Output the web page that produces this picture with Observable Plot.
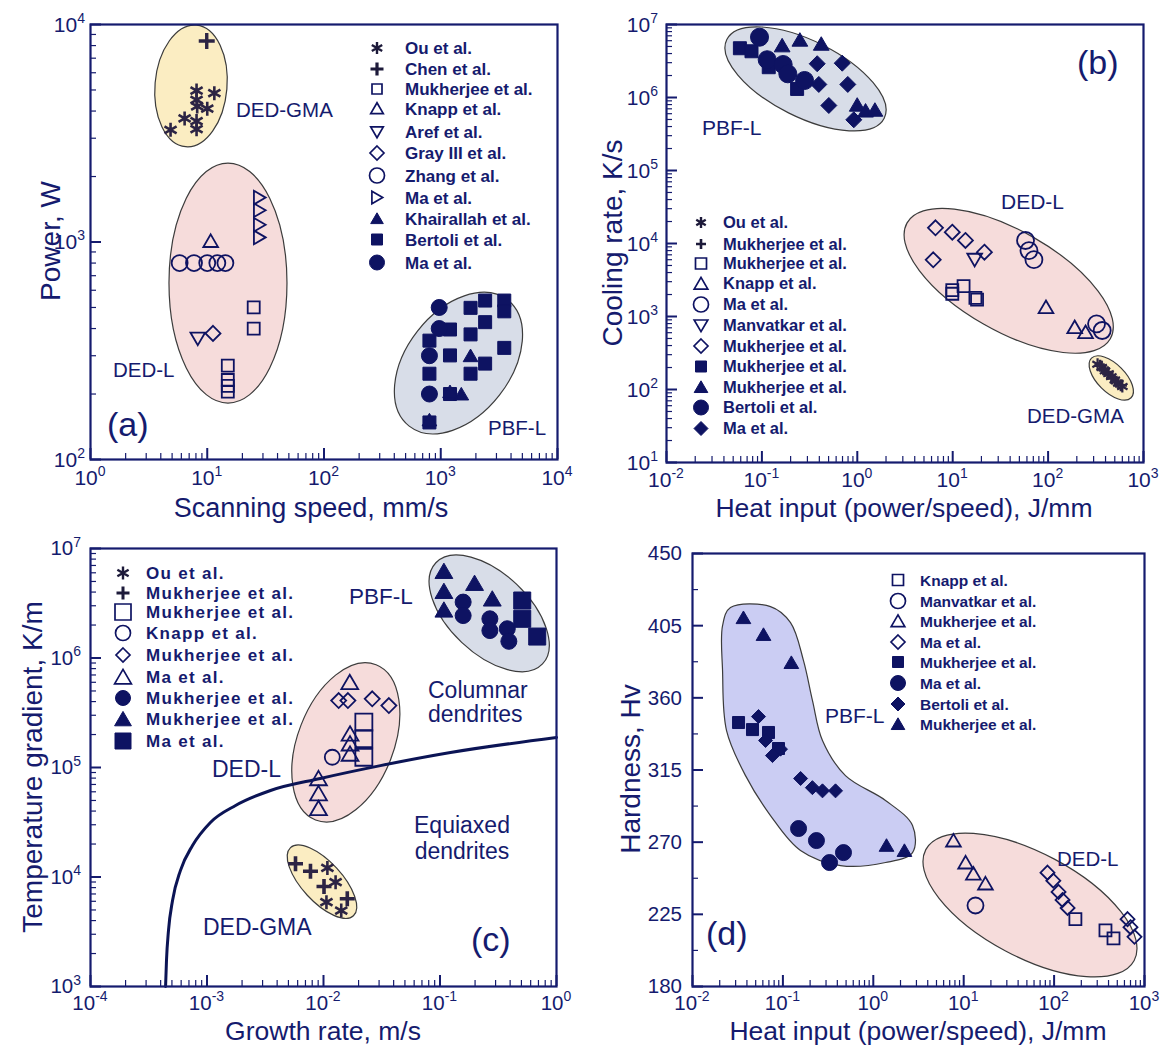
<!DOCTYPE html>
<html><head><meta charset="utf-8">
<script src="https://cdn.jsdelivr.net/npm/d3@7"></script>
<script src="https://cdn.jsdelivr.net/npm/@observablehq/plot@0.6"></script>
<style>
body{margin:0;background:#fff;}
#root{position:relative;width:1168px;height:1046px;overflow:hidden;background:#fff;}
#root svg{position:absolute;left:0;top:0;}
</style></head><body><div id="root"></div>
<script>
// ---------------- DATA ----------------
// Panel (a): Scanning speed (mm/s) vs Power (W)
const aNames = ["Ou et al.","Chen et al.","Mukherjee et al.","Knapp et al.","Aref et al.","Gray III et al.","Zhang et al.","Ma et al.","Khairallah et al.","Bertoli et al.","Ma et al."];
const aOu = [[8.1,4970],[11.5,4830],[8.1,4500],[8.2,4200],[10,4100],[6.4,3700],[8.1,3600],[4.85,3280],[8.1,3300]];
const aChen = [[9.9,8400]];
const aMukherjee = [[25,500],[25,400],[15,270],[15,232],[15,218],[15,205]];
const aKnapp = [[10.7,1010]];
const aAref = [[8.3,360]];
const aGray = [[11.2,380]];
const aZhang = [[5.8,800],[7.7,800],[10,800],[12.2,800],[14.3,800]];
const aMa = [[28,1600],[28,1400],[28,1200],[28,1050]];
const aKhairallah = [[1800,300],[1500,200],[1200,205],[800,152]];
const aBertoli = [[1800,498],[2400,538],[3500,538],[3500,480],[1200,396],[1800,376],[2400,428],[800,352],[1200,301],[3500,326],[2400,276],[1800,248],[800,248],[1200,200],[800,148]];
const aMa2 = [[970,500],[970,400],[800,300],[800,200]];
const aTicksX = [1,10,100,1000,10000];
const aTicksY = [100,1000,10000];

// Panel (b): Heat input (J/mm) vs Cooling rate (K/s)
const bNames = ["Ou et al.","Mukherjee et al.","Mukherjee et al.","Knapp et al.","Ma et al.","Manvatkar et al.","Mukherjee et al.","Mukherjee et al.","Mukherjee et al.","Bertoli et al.","Ma et al."];
const bOu = [[330,222],[365,200],[395,180],[430,165],[460,150],[500,135],[545,122],[600,110]];
const bMukPlus = [[350,212],[380,190],[420,172],[470,142],[520,128],[580,114]];
const bMukSq = [[9.9,2050],[9.9,2300],[13,2600],[17.3,1800],[18,1700]];
const bKnapp = [[95,1340],[190,713],[247,610]];
const bMa = [[58,11000],[63,8000],[71,6000],[322,794],[369,643]];
const bManvatkar = [[17,6000]];
const bMukDia = [[6.6,16400],[9.9,14300],[13.6,11000],[21.5,7600],[6.25,5980]];
const bMukFSq = [[0.0588,4.73e6],[0.0778,4.3e6],[0.118,2.6e6],[0.234,1.31e6]];
const bMukFTri = [[0.163,5.16e6],[0.25,6.17e6],[0.419,5.43e6],[0.998,7.94e5],[1.22,6.6e5],[1.53,6.77e5]];
const bBertoli = [[0.0944,6.7e6],[0.1136,3.29e6],[0.167,2.83e6],[0.187,2.11e6],[0.28,1.71e6]];
const bMaFDia = [[0.38,2.9e6],[0.695,2.95e6],[0.395,1.51e6],[0.795,1.51e6],[0.503,7.77e5],[0.919,4.95e5]];
const bTicksX = [0.01,0.1,1,10,100,1000];
const bTicksY = [10,100,1000,1e4,1e5,1e6,1e7];

// Panel (c): Growth rate (m/s) vs Temperature gradient (K/m)
const cNames = ["Ou et al.","Mukherjee et al.","Mukherjee et al.","Knapp et al.","Mukherjee et al.","Ma et al.","Mukherjee et al.","Mukherjee et al.","Ma et al."];
const cOu = [[0.0108,12100],[0.0127,8970],[0.0106,5890],[0.0142,4940]];
const cMukPlus = [[0.00575,13200],[0.00773,11300],[0.0101,8190],[0.016,6320]];
const cMukSq = [[0.0222,2.6e5],[0.0222,1.83e5],[0.0222,1.24e5]];
const cKnapp = [[0.0119,1.24e5]];
const cMukDia = [[0.0135,4.09e5],[0.0162,4.09e5],[0.0262,4.24e5],[0.0364,3.68e5]];
const cMaTri = [[0.0168,6.0e5],[0.0169,2.03e5],[0.0169,1.65e5],[0.0169,1.33e5],[0.00906,79400],[0.00906,57900],[0.00906,42300]];
const cMukFCirc = [[0.158,3.24e6],[0.158,2.44e6],[0.268,2.28e6],[0.268,1.78e6],[0.378,1.85e6],[0.39,1.42e6]];
const cMukFTri = [[0.108,6.2e6],[0.108,4.07e6],[0.108,2.75e6],[0.198,4.82e6],[0.281,3.47e6]];
const cMaFSq = [[0.508,3.35e6],[0.508,2.28e6],[0.683,1.57e6]];
const cCetX = [4.41e-4,4.49e-4,4.67e-4,5.06e-4,5.92e-4,7.51e-4,1.07e-3,1.76e-3,3.51e-3,9.4e-3,3.08e-2,0.123,1.0];
const cCetY = [1000,1730,3240,6100,11500,19400,31500,45000,61700,79400,104000,137000,188000];
const cTicksX = [1e-4,1e-3,1e-2,1e-1,1];
const cTicksY = [1e3,1e4,1e5,1e6,1e7];

// Panel (d): Heat input (J/mm) vs Hardness (Hv)
const dNames = ["Knapp et al.","Manvatkar et al.","Mukherjee et al.","Ma et al.","Mukherjee et al.","Ma et al.","Bertoli et al.","Mukherjee et al."];
const dKnapp = [[172,222],[370,215],[454,210]];
const dManvatkar = [[13.5,230.5]];
const dMukTri = [[7.7,271],[10.5,257.3],[12.8,250.4],[17.4,244.2]];
const dMaDia = [[84.5,251],[98,246],[112,239],[124,234],[141,229],[649,222],[700,217],[775,211]];
const dMukFSq = [[0.0323,344.6],[0.0461,340.2],[0.0693,338.4],[0.0894,328.4]];
const dMaFCirc = [[0.149,278.5],[0.235,271],[0.328,257.3],[0.468,263.5]];
const dBertoli = [[0.0537,348.3],[0.0643,333.4],[0.0767,324],[0.094,328],[0.157,309.7],[0.212,304],[0.274,302],[0.382,302]];
const dMukFTri = [[0.0366,410],[0.061,399.5],[0.124,382],[1.4,268],[2.21,264.8]];
const dPbfOutline = [[0.0263,416.3],[0.0729,416.9],[0.1214,406.9],[0.169,383.2],[0.2125,358.3],[0.274,333.4],[0.492,311.5],[1.365,296],[2.716,280.4],[2.716,263.5],[1.365,257.3],[0.434,255.4],[0.1566,264.8],[0.0729,286.6],[0.0386,311.5],[0.0238,339.6],[0.0215,377],[0.0215,405]];
const dTicksX = [0.01,0.1,1,10,100,1000];
const dTicksY = [180,225,270,315,360,405,450];

// ---------------- STYLE ----------------
const FONT = '"Liberation Sans", Arial, Helvetica, sans-serif';
const NAVY = "#151b6e";
const MARK = "#0e1362";
const GMA = "#2c2444";
const YEL = "#fbedc2", PINK = "#f6dcdb", GREY = "#d8dde8", LAV = "#cbcdf3";
const NS = "http://www.w3.org/2000/svg";
function el(tag, attrs, text) {
  const e = document.createElementNS(NS, tag);
  for (const k in attrs) e.setAttribute(k, attrs[k]);
  if (text != null) e.textContent = text;
  return e;
}
const R = s => Math.sqrt(s / Math.PI);
const SYM = {
  circle: {draw(c, s) { const r = R(s); c.moveTo(r, 0); c.arc(0, 0, r, 0, 2 * Math.PI); c.closePath(); }},
  square: {draw(c, s) { const r = R(s); c.moveTo(-r, -r); c.lineTo(r, -r); c.lineTo(r, r); c.lineTo(-r, r); c.closePath(); }},
  triangle: {draw(c, s) { const r = R(s); c.moveTo(0, -0.95 * r); c.lineTo(1.05 * r, 0.85 * r); c.lineTo(-1.05 * r, 0.85 * r); c.closePath(); }},
  triDown: {draw(c, s) { const r = R(s); c.moveTo(0, 0.95 * r); c.lineTo(1.05 * r, -0.85 * r); c.lineTo(-1.05 * r, -0.85 * r); c.closePath(); }},
  triRight: {draw(c, s) { const r = R(s); c.moveTo(0.95 * r, 0); c.lineTo(-0.85 * r, -1.05 * r); c.lineTo(-0.85 * r, 1.05 * r); c.closePath(); }},
  diamond: {draw(c, s) { const r = R(s); c.moveTo(0, -r); c.lineTo(r, 0); c.lineTo(0, r); c.lineTo(-r, 0); c.closePath(); }},
  asterisk: {draw(c, s) { const r = R(s); for (const a of [90, 30, -30]) { const t = a * Math.PI / 180; c.moveTo(r * Math.cos(t), r * Math.sin(t)); c.lineTo(-r * Math.cos(t), -r * Math.sin(t)); } }},
  plus: {draw(c, s) { const r = R(s); c.moveTo(-r, 0); c.lineTo(r, 0); c.moveTo(0, -r); c.lineTo(0, r); }}
};
const LINE_SYMS = new Set(["asterisk", "plus"]);

function logMinor(lo, hi) {
  const out = [];
  for (let k = Math.round(Math.log10(lo)); k < Math.round(Math.log10(hi)); k++)
    for (let m = 2; m <= 9; m++) out.push(+(m * Math.pow(10, k)).toPrecision(6));
  return out;
}

function ellipsesMark(list) {
  return (index, scales) => {
    const g = el("g", {});
    for (const e of list) {
      const cx = scales.x(e.cx), cy = scales.y(e.cy);
      g.appendChild(el("ellipse", {cx, cy, rx: e.rx, ry: e.ry, transform: `rotate(${e.rot} ${cx} ${cy})`, fill: e.fill, stroke: "#3c3c3c", "stroke-width": 1.2}));
    }
    return g;
  };
}

function addLabel(g, x, y, v, anchor, fs, linear) {
  const t = el("text", {x, y, "text-anchor": anchor, "font-size": fs, fill: NAVY, "font-family": FONT});
  if (linear) { t.textContent = String(v); }
  else {
    const e = Math.round(Math.log10(v));
    t.appendChild(el("tspan", {}, "10"));
    t.appendChild(el("tspan", {dy: -0.42 * fs, "font-size": Math.round(fs * 0.66)}, e < 0 ? "-" + (-e) : String(e)));
  }
  g.appendChild(t);
}

function tickLabelMark(p) {
  return (index, scales, values, dim) => {
    const g = el("g", {});
    const bottom = dim.height - dim.marginBottom, left = dim.marginLeft;
    for (const v of p.xTicks) addLabel(g, scales.x(v), bottom + p.xDy, v, "middle", p.fs, false);
    for (const v of p.yTicks) addLabel(g, left - p.yDx, scales.y(v) + p.fs * 0.36, v, "end", p.fs, p.yLinear);
    return g;
  };
}

function dots(s) {
  const line = LINE_SYMS.has(s.sym);
  const col = s.color || MARK;
  return Plot.dot(s.data, {
    x: d => d[0], y: d => d[1], symbol: SYM[s.sym], r: s.r,
    fill: s.filled ? col : "none", stroke: col,
    strokeWidth: line ? (s.sw || 2.6) : (s.filled ? 1 : 1.8)
  });
}

const root = document.getElementById("root");

function panel(p) {
  const W = p.x1 - p.x0, H = p.y1 - p.y0;
  const marks = [
    ellipsesMark(p.ellipses),
    ...(p.extra || []),
    ...p.series.map(dots),
    Plot.ruleX(p.xTicks, {x: d => d, insetTop: H - 11, stroke: NAVY, strokeWidth: 2}),
    Plot.ruleX(p.xMinor, {x: d => d, insetTop: H - 6, stroke: NAVY, strokeWidth: 1.2}),
    Plot.ruleY(p.yTicks, {y: d => d, insetRight: W - 11, stroke: NAVY, strokeWidth: 2}),
    Plot.ruleY(p.yMinor, {y: d => d, insetRight: W - 6, stroke: NAVY, strokeWidth: 1.2}),
    Plot.frame({stroke: NAVY, strokeWidth: 2.2}),
    tickLabelMark(p)
  ];
  const svg = Plot.plot({
    width: 1168, height: 1046,
    marginLeft: p.x0, marginRight: 1168 - p.x1, marginTop: p.y0, marginBottom: 1046 - p.y1,
    x: {type: "log", domain: p.xDomain, axis: null},
    y: {type: p.yLinear ? "linear" : "log", domain: p.yDomain, axis: null},
    style: {background: "transparent", overflow: "visible", maxWidth: "none"},
    marks
  });
  svg.style.position = "absolute"; svg.style.left = "0px"; svg.style.top = "0px";
  root.appendChild(svg);
}

// ---------- Panel (a) ----------
panel({
  x0: 90, x1: 557, y0: 24, y1: 459, xDomain: [1, 1e4], yDomain: [100, 1e4],
  xTicks: aTicksX, yTicks: aTicksY, xMinor: logMinor(1, 1e4), yMinor: logMinor(100, 1e4), yDx: 5, xDy: 25.5, fs: 21,
  ellipses: [
    {cx: 7.33, cy: 5190, rx: 36, ry: 61, rot: 5, fill: YEL},
    {cx: 15.2, cy: 644, rx: 59, ry: 120, rot: 0, fill: PINK},
    {cx: 1432, cy: 276, rx: 80, ry: 52, rot: -52, fill: GREY}
  ],
  series: [
    {data: aOu, sym: "asterisk", r: 7, color: GMA},
    {data: aChen, sym: "plus", r: 8, color: GMA, sw: 3.4},
    {data: aMukherjee, sym: "square", r: 6},
    {data: aKnapp, sym: "triangle", r: 7},
    {data: aAref, sym: "triDown", r: 7},
    {data: aGray, sym: "diamond", r: 7.5},
    {data: aZhang, sym: "circle", r: 8},
    {data: aMa, sym: "triRight", r: 6.5},
    {data: aBertoli, sym: "square", r: 6.5, filled: true},
    {data: aKhairallah, sym: "triangle", r: 7, filled: true},
    {data: aMa2, sym: "circle", r: 8, filled: true}
  ]
});

// ---------- Panel (b) ----------
panel({
  x0: 666, x1: 1143, y0: 24, y1: 462, xDomain: [0.01, 1000], yDomain: [10, 1e7],
  xTicks: bTicksX, yTicks: bTicksY, xMinor: logMinor(0.01, 1000), yMinor: logMinor(10, 1e7), yDx: 8, xDy: 24.5, fs: 21,
  ellipses: [
    {cx: 0.29, cy: 1.77e6, rx: 88, ry: 38, rot: 26.6, fill: GREY},
    {cx: 39.1, cy: 3035, rx: 117, ry: 50, rot: 29.7, fill: PINK},
    {cx: 465, cy: 141.7, rx: 28, ry: 14, rot: 45, fill: YEL}
  ],
  series: [
    {data: bOu, sym: "asterisk", r: 6, color: GMA, sw: 2.2},
    {data: bMukPlus, sym: "plus", r: 6, color: GMA, sw: 2.6},
    {data: bMukSq, sym: "square", r: 6},
    {data: bKnapp, sym: "triangle", r: 7},
    {data: bMa, sym: "circle", r: 8.5},
    {data: bManvatkar, sym: "triDown", r: 7},
    {data: bMukDia, sym: "diamond", r: 7.5},
    {data: bMukFSq, sym: "square", r: 6.5, filled: true},
    {data: bMukFTri, sym: "triangle", r: 7.5, filled: true},
    {data: bBertoli, sym: "circle", r: 9, filled: true},
    {data: bMaFDia, sym: "diamond", r: 8, filled: true}
  ]
});

// ---------- Panel (c) ----------
const cCurve = cCetX.map((x, i) => [x, cCetY[i]]);
panel({
  x0: 90, x1: 556, y0: 548, y1: 986, xDomain: [1e-4, 1], yDomain: [1e3, 1e7],
  xTicks: cTicksX, yTicks: cTicksY, xMinor: logMinor(1e-4, 1), yMinor: logMinor(1e3, 1e7), yDx: 9, xDy: 24, fs: 20.5,
  ellipses: [
    {cx: 0.267, cy: 2.53e6, rx: 73.5, ry: 40, rot: 43.5, fill: GREY},
    {cx: 0.0157, cy: 1.68e5, rx: 83.3, ry: 48, rot: -68.7, fill: PINK},
    {cx: 0.0098, cy: 8970, rx: 46.4, ry: 20, rot: 47.3, fill: YEL}
  ],
  extra: [Plot.line(cCurve, {x: d => d[0], y: d => d[1], curve: "monotone-x", stroke: "#0b1455", strokeWidth: 3})],
  series: [
    {data: cOu, sym: "asterisk", r: 7, color: GMA, sw: 2.6},
    {data: cMukPlus, sym: "plus", r: 7.5, color: GMA, sw: 3.6},
    {data: cMukSq, sym: "square", r: 8.5},
    {data: cKnapp, sym: "circle", r: 7.5},
    {data: cMukDia, sym: "diamond", r: 7.5},
    {data: cMaTri, sym: "triangle", r: 8},
    {data: cMukFCirc, sym: "circle", r: 8, filled: true},
    {data: cMukFTri, sym: "triangle", r: 8.5, filled: true},
    {data: cMaFSq, sym: "square", r: 8.5, filled: true}
  ]
});

// ---------- Panel (d) ----------
const dMidMinor = dTicksY.slice(0, -1).map(v => v + 22.5);
panel({
  x0: 692, x1: 1144, y0: 553, y1: 986, xDomain: [0.01, 1000], yDomain: [180, 450], yLinear: true,
  xTicks: dTicksX, yTicks: dTicksY, xMinor: logMinor(0.01, 1000), yMinor: dMidMinor, yDx: 10, xDy: 24, fs: 20.5,
  ellipses: [{cx: 54.8, cy: 230.5, rx: 118, ry: 52, rot: 28, fill: PINK}],
  extra: [Plot.line(dPbfOutline, {x: d => d[0], y: d => d[1], curve: "catmull-rom-closed", fill: LAV, stroke: "#3c3c3c", strokeWidth: 1.2})],
  series: [
    {data: dKnapp, sym: "square", r: 6},
    {data: dManvatkar, sym: "circle", r: 8},
    {data: dMukTri, sym: "triangle", r: 7},
    {data: dMaDia, sym: "diamond", r: 7},
    {data: dMukFSq, sym: "square", r: 6, filled: true},
    {data: dMaFCirc, sym: "circle", r: 8, filled: true},
    {data: dBertoli, sym: "diamond", r: 7, filled: true},
    {data: dMukFTri, sym: "triangle", r: 7, filled: true}
  ]
});

// ---------------- OVERLAY TEXT ----------------
const ov = el("svg", {width: 1168, height: 1046, viewBox: "0 0 1168 1046"});
ov.style.position = "absolute"; ov.style.left = "0px"; ov.style.top = "0px"; ov.style.pointerEvents = "none";
root.appendChild(ov);
function txt(x, y, s, fs, opts = {}) {
  const t = el("text", Object.assign({x, y, "font-size": fs, fill: NAVY, "font-family": FONT}, opts), s);
  ov.appendChild(t);
  return t;
}
function vtitle(x, y, s, fs) {
  txt(0, 0, s, fs, {transform: `translate(${x},${y}) rotate(-90)`, "text-anchor": "middle", "dominant-baseline": "central"});
}
// axis titles
txt(311, 517, "Scanning speed, mm/s", 27, {"text-anchor": "middle"});
txt(904, 517, "Heat input (power/speed), J/mm", 26.5, {"text-anchor": "middle"});
txt(323, 1040, "Growth rate, m/s", 26.5, {"text-anchor": "middle"});
txt(918, 1040, "Heat input (power/speed), J/mm", 26.5, {"text-anchor": "middle"});
vtitle(50, 241, "Power, W", 28);
vtitle(612, 243, "Cooling rate, K/s", 28);
vtitle(32, 767, "Temperature gradient, K/m", 28);
vtitle(630, 769, "Hardness, Hv", 28);
// panel letters
txt(107, 436, "(a)", 34);
txt(1077, 74, "(b)", 34);
txt(471, 951, "(c)", 34);
txt(706, 945, "(d)", 34);
// region labels
txt(236, 117, "DED-GMA", 20.5);
txt(113, 377, "DED-L", 20.5);
txt(488, 435, "PBF-L", 20.5);
txt(702, 135, "PBF-L", 21);
txt(1001, 209, "DED-L", 21);
txt(1027, 423, "DED-GMA", 20.5);
txt(349, 604, "PBF-L", 22.5);
txt(428, 698, "Columnar", 23);
txt(428, 722, "dendrites", 23);
txt(462, 833, "Equiaxed", 23, {"text-anchor": "middle"});
txt(462, 859, "dendrites", 23, {"text-anchor": "middle"});
txt(212, 777, "DED-L", 23);
txt(203, 935, "DED-GMA", 23);
txt(825, 723, "PBF-L", 21);
txt(1057, 866, "DED-L", 20.5);

// legends
function legend(names, syms, sx, tx, rows, fs, extra = {}) {
  names.forEach((n, i) => {
    const s = syms[i], y = rows[i];
    const line = LINE_SYMS.has(s[0]);
    const col = line ? "#1d1a3a" : MARK;
    const d = d3.symbol(SYM[s[0]], Math.PI * s[1] * s[1])();
    ov.appendChild(el("path", {d, transform: `translate(${sx},${y})`,
      fill: s[2] ? col : "none", stroke: col, "stroke-width": line ? (s[3] || 2.4) : (s[2] ? 1 : 1.7)}));
    txt(tx, y + fs * 0.36, n, fs, Object.assign({"font-weight": "bold"}, extra));
  });
}
legend(aNames,
  [["asterisk",6],["plus",6.5,false,3.2],["square",5],["triangle",6],["triDown",6],["diamond",7],["circle",7.5],["triRight",6],["triangle",6,true],["square",5.5,true],["circle",7.5,true]],
  377, 405, [48, 69, 89, 108.5, 132, 153, 175.5, 197.5, 218.5, 239.5, 262.5], 17);
legend(bNames,
  [["asterisk",5.5],["plus",5,false,2.6],["square",5.5],["triangle",6.5],["circle",7.5],["triDown",6.5],["diamond",7],["square",5.5,true],["triangle",6.5,true],["circle",7.5,true],["diamond",7,true]],
  701, 723, [222.5, 244, 263.5, 283.5, 304.5, 325.5, 346, 366.5, 387, 407.5, 428.5], 16.5);
legend(cNames,
  [["asterisk",6.5],["plus",6.5,false,3],["square",8],["circle",7.5],["diamond",7],["triangle",8],["circle",7.5,true],["triangle",8,true],["square",8,true]],
  123, 146, [573, 593, 612, 633, 655, 677, 698, 719, 741], 17, {"letter-spacing": "1.3"});
legend(dNames,
  [["square",5.5],["circle",7.5],["triangle",6.5],["diamond",7],["square",5.5,true],["circle",7.5,true],["diamond",7,true],["triangle",6.5,true]],
  898, 920, [580, 601, 621, 642, 662, 683, 704, 724], 15.5);
</script></body></html>
